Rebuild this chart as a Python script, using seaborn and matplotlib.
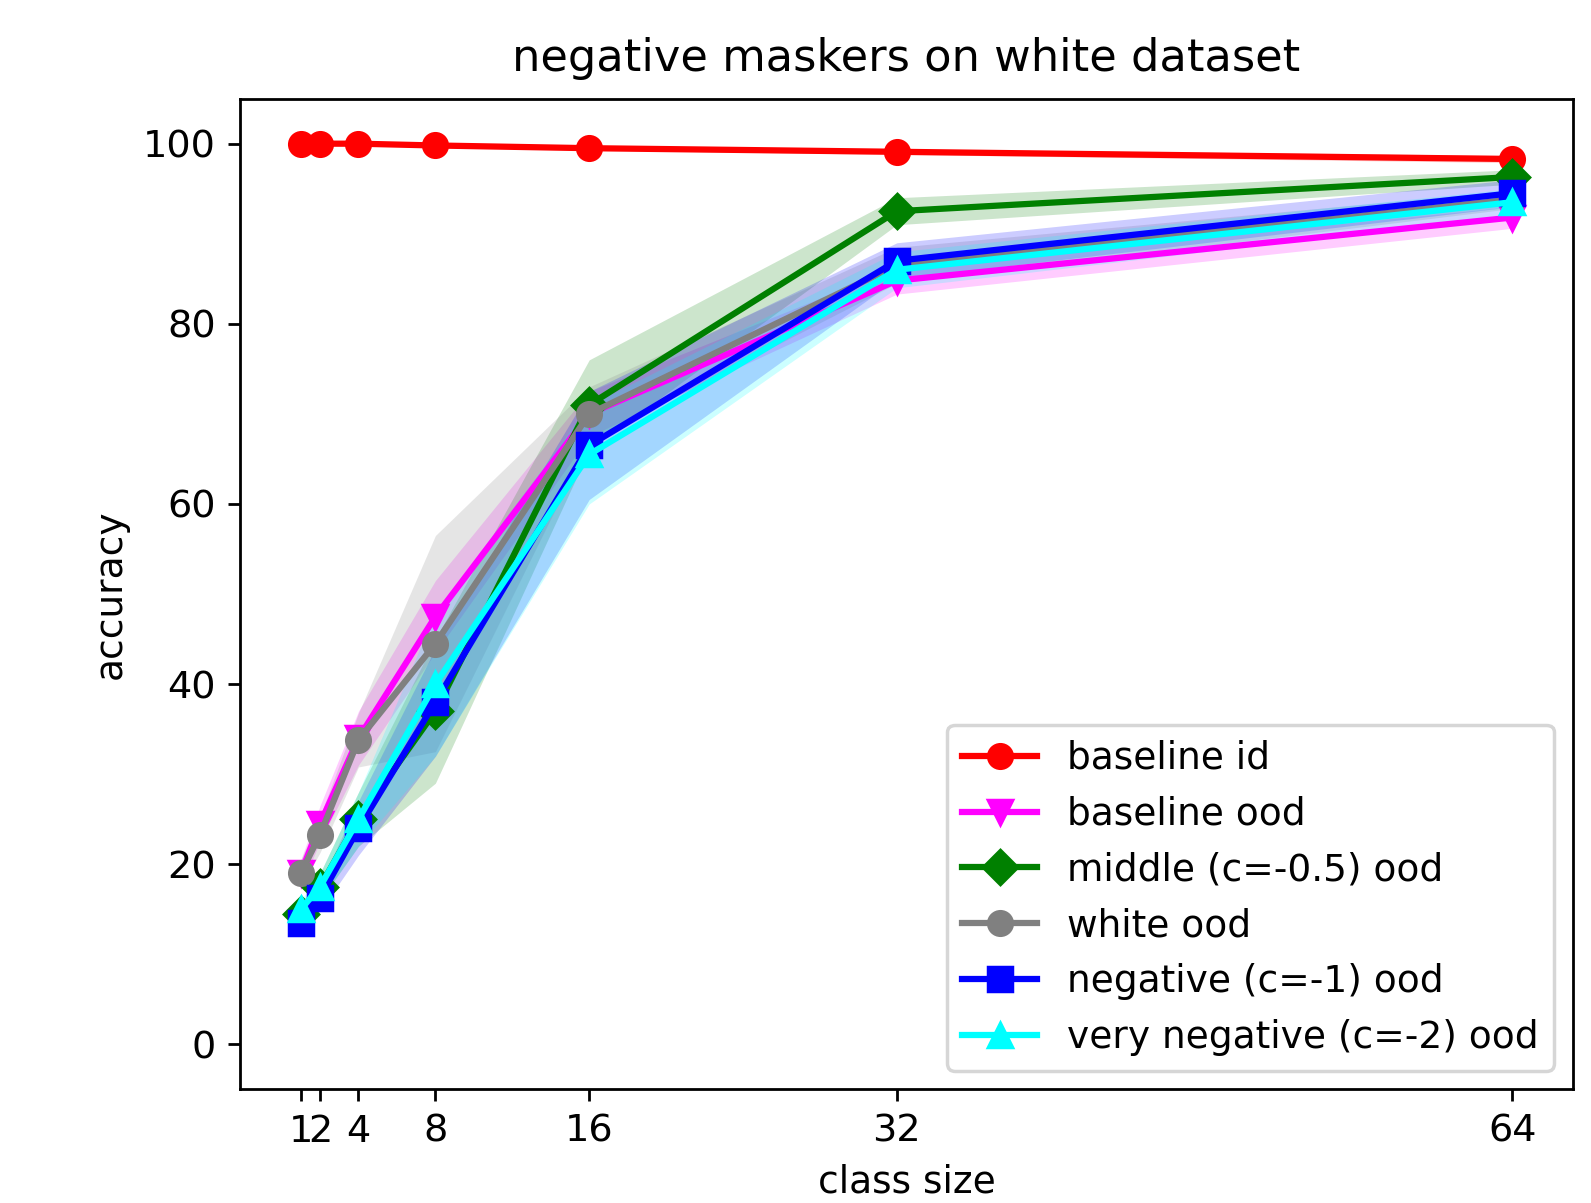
import numpy as np
import pandas as pd
import matplotlib
matplotlib.use("Agg")
import matplotlib.pyplot as plt
import seaborn as sns

class_sizes = [1, 2, 4, 8, 16, 32, 64]

labels = [
    "baseline id",
    "baseline ood",
    "middle (c=-0.5) ood",
    "white ood",
    "negative (c=-1) ood",
    "very negative (c=-2) ood",
]

baseline_id = [100.0, 100.0, 100.0, 99.8, 99.5, 99.1, 98.3]
baseline_ood = [19.0, 24.5, 34.0, 47.5, 70.0, 84.8, 91.8]
middle_ood = [14.5, 17.5, 25.0, 37.0, 71.0, 92.5, 96.3]
white_ood = [19.0, 23.3, 33.8, 44.5, 70.0, 86.5, 93.8]
negative_ood = [13.5, 16.3, 24.0, 38.0, 66.5, 87.0, 94.5]
very_negative_ood = [15.0, 17.5, 25.0, 40.0, 65.5, 86.0, 93.5]

baseline_id_std = [0.1, 0.1, 0.1, 0.2, 0.2, 0.3, 0.4]
baseline_ood_std = [1.5, 2.0, 3.0, 4.0, 2.5, 1.5, 1.2]
middle_ood_std = [1.0, 1.5, 3.0, 8.0, 5.0, 1.5, 0.8]
white_ood_std = [1.5, 2.0, 3.0, 12.0, 3.0, 2.0, 1.0]
negative_ood_std = [1.0, 1.5, 3.0, 6.0, 6.0, 2.0, 1.5]
very_negative_ood_std = [1.0, 1.5, 3.0, 8.0, 5.5, 2.0, 1.5]

colors = ["red", "magenta", "green", "gray", "blue", "cyan"]
markers = ["o", "v", "D", "o", "s", "^"]


def main():
    means = [baseline_id, baseline_ood, middle_ood, white_ood, negative_ood, very_negative_ood]
    stds = [baseline_id_std, baseline_ood_std, middle_ood_std, white_ood_std,
            negative_ood_std, very_negative_ood_std]

    fig = plt.figure(figsize=(1591 / 250, 1203 / 250), dpi=250)
    ax = fig.add_axes([0.151, 0.0944, 0.8375, 0.8236])

    for lab, m, s, c, mk in zip(labels, means, stds, colors, markers):
        df = pd.DataFrame({"class size": class_sizes, "accuracy": m})
        sns.lineplot(data=df, x="class size", y="accuracy", ax=ax, color=c,
                     marker=mk, markersize=6.8, markeredgecolor=c,
                     markeredgewidth=1, linewidth=1.8, label=lab)
        lo = np.array(m) - np.array(s)
        hi = np.array(m) + np.array(s)
        ax.fill_between(class_sizes, lo, hi, color=c, alpha=0.2, linewidth=0)

    ax.set_xticks(class_sizes)
    ax.set_ylim(-5, 105)
    ax.tick_params(labelsize=11)
    ax.set_title("negative maskers on white dataset", fontsize=12.9, pad=8)
    ax.set_xlabel("class size", fontsize=10.8)
    ax.set_ylabel("accuracy", fontsize=10.8)
    ax.legend(loc="lower right", fontsize=10.8)

    fig.savefig("out.png", dpi=250)
    plt.close(fig)


if __name__ == "__main__":
    main()
